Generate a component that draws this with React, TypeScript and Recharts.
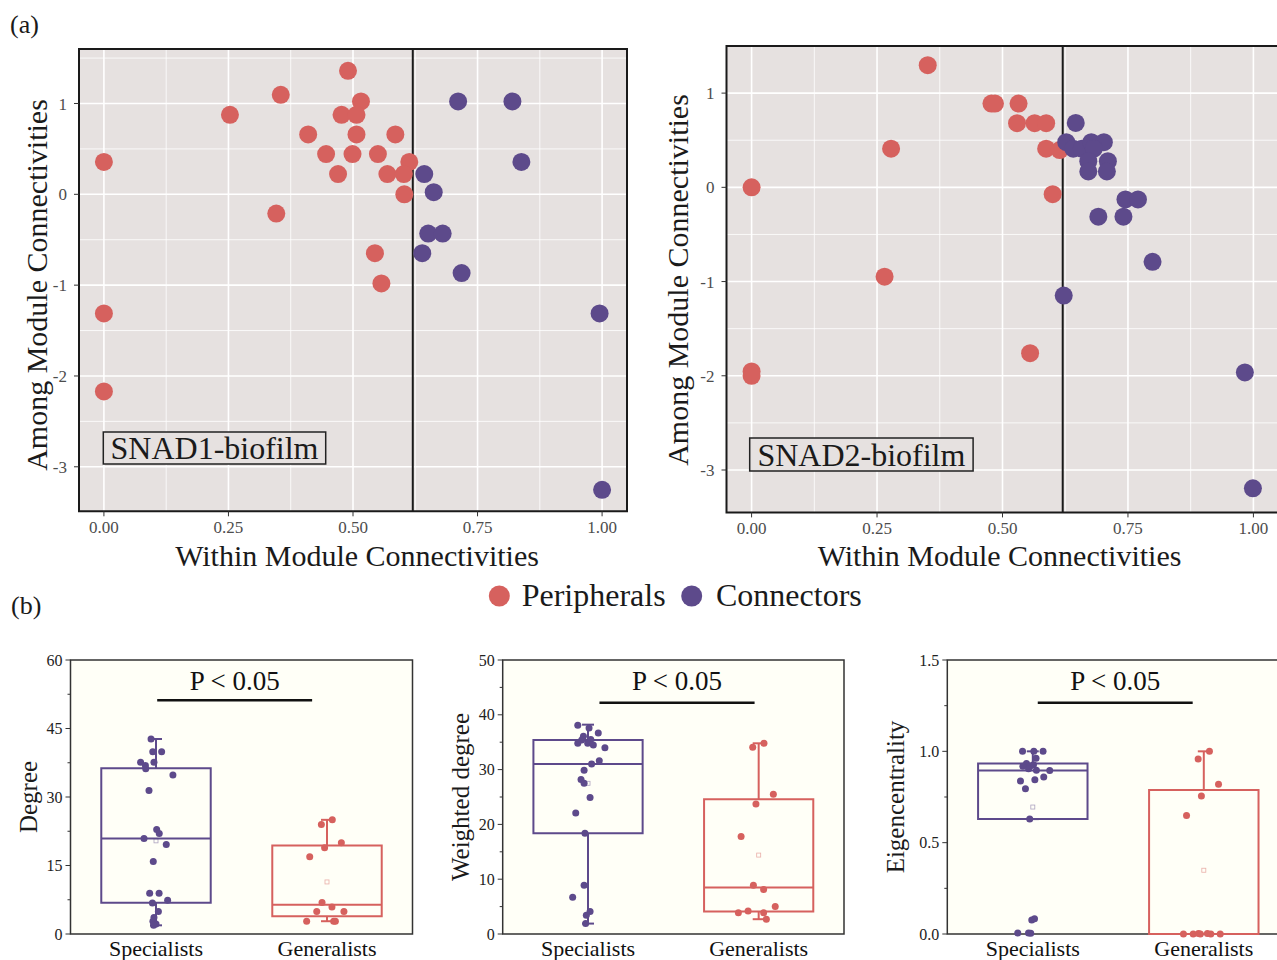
import React from 'react';
import {
  ScatterChart,
  Scatter,
  XAxis,
  YAxis,
  CartesianGrid,
  ReferenceLine,
  ReferenceArea,
  ReferenceDot,
} from 'recharts';

const FONT = '"Liberation Serif", "Times New Roman", serif';
const RED = '#D6615E';
const PURPLE = '#5D4A8B';
const PANEL_BG = '#E6E1E0';
const BOX_BG = '#FFFFF7';

// (a) within / among module connectivity, [x, y]
const snad1Peripherals = [
  [0.49, 1.36], [0.355, 1.095], [0.253, 0.875], [0.516, 1.023], [0.477, 0.875],
  [0.507, 0.875], [0.41, 0.659], [0.507, 0.659], [0.585, 0.659], [0, 0.356],
  [0.446, 0.443], [0.499, 0.443], [0.55, 0.443], [0.613, 0.356], [0.47, 0.223],
  [0.569, 0.223], [0.602, 0.223], [0.603, 0], [0.346, -0.212], [0.544, -0.648],
  [0.557, -0.981], [0, -1.311], [0, -2.17],
];
const snad1Connectors = [
  [0.711, 1.023], [0.82, 1.023], [0.838, 0.356], [0.643, 0.223], [0.662, 0.023],
  [0.651, -0.432], [0.68, -0.432], [0.639, -0.648], [0.718, -0.867], [0.995, -1.311],
  [1.0, -3.254],
];
const snad2Peripherals = [
  [0.351, 1.296], [0.478, 0.889], [0.485, 0.889], [0.532, 0.889], [0.529, 0.681],
  [0.564, 0.681], [0.587, 0.681], [0.278, 0.41], [0.587, 0.41], [0.614, 0.395],
  [0, 0], [0.6, -0.073], [0.265, -0.948], [0.555, -1.76], [0, -1.954], [0, -2.0],
];
const snad2Connectors = [
  [0.646, 0.684], [0.627, 0.479], [0.641, 0.41], [0.658, 0.41], [0.677, 0.479],
  [0.702, 0.479], [0.682, 0.41], [0.671, 0.278], [0.71, 0.278], [0.671, 0.168],
  [0.708, 0.168], [0.745, -0.128], [0.77, -0.128], [0.691, -0.311], [0.741, -0.311],
  [0.799, -0.79], [0.622, -1.149], [0.983, -1.965], [0.999, -3.195],
];
const xTicks = [0, 0.25, 0.5, 0.75, 1];
const xMinor = [0.125, 0.375, 0.625, 0.875];
const yTicks = [-3, -2, -1, 0, 1];
const yMinor1 = [-2.5, -1.5, -0.5, 0.5, 1.5];
const yMinor2 = [-2.5, -1.5, -0.5, 0.5];

// (b) box plots: jittered points [x position, value]
const groups = ['Specialists', 'Generalists'];
const degreeSpec = [
  [0.471, 42.7], [0.481, 39.9], [0.533, 39.9], [0.41, 37.6], [0.438, 36.9], [0.488, 37.6],
  [0.44, 36.2], [0.599, 34.8], [0.459, 31.4], [0.504, 22.9], [0.519, 22.0], [0.43, 20.9],
  [0.56, 19.6], [0.484, 15.9], [0.463, 8.9], [0.518, 8.9], [0.568, 7.4], [0.479, 6.8],
  [0.514, 4.9], [0.488, 3.6], [0.482, 2.8], [0.5, 2.2], [0.486, 1.9],
];
const degreeGen = [
  [1.531, 25.0], [1.467, 24.0], [1.584, 20.0], [1.486, 18.9], [1.399, 16.9], [1.471, 6.9],
  [1.529, 5.9], [1.44, 4.9], [1.599, 4.9], [1.381, 2.8], [1.539, 2.8], [1.549, 2.8],
];
const weightedSpec = [
  [0.44, 38.1], [0.506, 37.6], [0.56, 36.7], [0.473, 36.1], [0.463, 35.4], [0.516, 35.5],
  [0.44, 34.8], [0.498, 34.8], [0.531, 34.5], [0.599, 34.0], [0.566, 31.6], [0.521, 31.0],
  [0.477, 29.9], [0.459, 28.2], [0.477, 27.5], [0.512, 24.9], [0.428, 22.1], [0.482, 18.4],
  [0.477, 8.9], [0.41, 6.7], [0.512, 4.1], [0.49, 3.4], [0.486, 1.9],
];
const weightedGen = [
  [1.531, 34.8], [1.465, 34.1], [1.586, 25.5], [1.484, 23.7], [1.397, 17.8], [1.469, 8.9],
  [1.529, 8.1], [1.597, 5.0], [1.438, 4.2], [1.381, 3.9], [1.529, 3.9], [1.545, 2.7],
];
const eigenSpec = [
  [0.44, 1.0], [0.506, 1.0], [0.56, 1.0], [0.519, 0.962], [0.463, 0.933], [0.442, 0.918],
  [0.484, 0.918], [0.504, 0.927], [0.521, 0.896], [0.599, 0.895], [0.475, 0.904], [0.428, 0.838],
  [0.512, 0.845], [0.564, 0.86], [0.457, 0.795], [0.482, 0.629], [0.494, 0.076], [0.51, 0.084],
  [0.412, 0.005], [0.475, 0.005], [0.488, 0.004],
];
const eigenGen = [
  [1.533, 1.0], [1.467, 0.958], [1.586, 0.82], [1.486, 0.756], [1.399, 0.649], [1.381, 0],
  [1.438, 0], [1.469, 0.003], [1.521, 0.003], [1.541, 0], [1.596, 0], [1.48, 0],
];
// [low whisker, q1, median, q3, high whisker, mean]
const degreeBoxes = [[1.9, 6.85, 20.9, 36.3, 42.7, 20.4], [2.8, 3.86, 6.4, 19.4, 25.0, 11.4]];
const weightedBoxes = [[1.9, 18.4, 31.0, 35.4, 38.2, 27.5], [2.7, 4.1, 8.5, 24.6, 34.8, 14.4]];
const eigenBoxes = [[0.629, 0.629, 0.895, 0.933, 1.0, 0.695], [0, 0, 0, 0.789, 1.0, 0.349]];

const toPts = (arr: number[][]) => arr.map(([x, y]) => ({ x, y }));
const dot = (r: number, fill: string) => (p: any) => <circle cx={p.cx} cy={p.cy} r={r} fill={fill} />;

function ModulePanel({ left, width, margin, yDomain, yMinor, peri, conn }: any) {
  const tickStyle = { fontSize: 17, fill: '#4d4d4d', fontFamily: FONT };
  return (
    <div style={{ position: 'absolute', left, top: 0 }}>
      <ScatterChart width={width} height={580} margin={margin}>
        <CartesianGrid fill={PANEL_BG} stroke="#fff" strokeWidth={0.8} horizontalValues={yMinor} verticalValues={xMinor} />
        <CartesianGrid stroke="#fff" strokeWidth={1.6} horizontalValues={yTicks} verticalValues={xTicks} />
        <XAxis
          type="number" dataKey="x" domain={[-0.05, 1.05]} ticks={xTicks} interval={0}
          tickFormatter={(v: number) => v.toFixed(2)} axisLine={false}
          tickLine={{ stroke: '#333' }} tickSize={5} tickMargin={5} height={30} tick={tickStyle}
        />
        <YAxis
          type="number" dataKey="y" domain={yDomain} ticks={yTicks} interval={0} axisLine={false}
          tickLine={{ stroke: '#333' }} tickSize={5} tickMargin={7} width={40} tick={tickStyle}
        />
        <ReferenceArea x1={-0.05} x2={1.05} y1={yDomain[0]} y2={yDomain[1]} fill="none" stroke="#1a1a1a" strokeWidth={2} fillOpacity={0} />
        <Scatter data={toPts(peri)} fill={RED} shape={dot(9, RED)} isAnimationActive={false} />
        <Scatter data={toPts(conn)} fill={PURPLE} shape={dot(9, PURPLE)} isAnimationActive={false} />
        <ReferenceLine x={0.62} stroke="#1a1a1a" strokeWidth={2} />
      </ScatterChart>
    </div>
  );
}

function BoxPanel({ left, marginLeft, marginRight, yMax, majors, minors, fmt, spec, gen, boxes, sig }: any) {
  const ticks = [...majors, ...minors].sort((a: number, b: number) => a - b);
  const yTick = (p: any) => {
    const v = p.payload.value;
    const major = majors.includes(v);
    return (
      <g>
        <line x1={p.x - (major ? 5 : 3)} x2={p.x} y1={p.y} y2={p.y} stroke="#333" strokeWidth={1} />
        {major && (
          <text x={p.x - 8} y={p.y} dy="0.35em" textAnchor="end" fontSize={16} fontFamily={FONT} fill="#222">
            {fmt(v)}
          </text>
        )}
      </g>
    );
  };
  const colors = [PURPLE, RED];
  const hw = 0.32;
  const cap = 0.035;
  return (
    <div style={{ position: 'absolute', left, top: 600 }}>
      <ScatterChart width={440} height={360} margin={{ top: 60, left: marginLeft, right: marginRight, bottom: 6 }}>
        <CartesianGrid fill={BOX_BG} horizontal={false} vertical={false} />
        <XAxis
          type="number" dataKey="x" domain={[0, 2]} ticks={[0.5, 1.5]} interval={0}
          tickFormatter={(v: number) => groups[Math.floor(v)]} axisLine={false} tickLine={false}
          tickSize={0} tickMargin={6} height={20} tick={{ fontSize: 22, fill: '#111', fontFamily: FONT }}
        />
        <YAxis
          type="number" dataKey="y" domain={[0, yMax]} ticks={ticks} interval={0} axisLine={false}
          tickLine={false} tickSize={0} tickMargin={0} width={40} tick={yTick}
        />
        <ReferenceArea x1={0} x2={2} y1={0} y2={yMax} fill="none" fillOpacity={0} stroke="#333" strokeWidth={1.5} />
        {boxes.map((b: number[], i: number) => {
          const c = 0.5 + i;
          const col = colors[i];
          const [lo, q1, med, q3, hi, mean] = b;
          return (
            <React.Fragment key={i}>
              <ReferenceArea x1={c - hw} x2={c + hw} y1={q1} y2={q3} fill="none" fillOpacity={0} stroke={col} strokeWidth={2} />
              <ReferenceLine segment={[{ x: c - hw, y: med }, { x: c + hw, y: med }]} stroke={col} strokeWidth={2} />
              <ReferenceLine segment={[{ x: c, y: q3 }, { x: c, y: hi }]} stroke={col} strokeWidth={2} />
              <ReferenceLine segment={[{ x: c, y: lo }, { x: c, y: q1 }]} stroke={col} strokeWidth={2} />
              <ReferenceLine segment={[{ x: c - cap, y: hi }, { x: c + cap, y: hi }]} stroke={col} strokeWidth={2} />
              <ReferenceLine segment={[{ x: c - cap, y: lo }, { x: c + cap, y: lo }]} stroke={col} strokeWidth={2} />
              <ReferenceDot
                x={c} y={mean} r={2}
                shape={(p: any) => (
                  <rect x={p.cx - 2} y={p.cy - 2} width={4} height={4} fill="none" stroke={col} strokeOpacity={0.5} strokeWidth={0.8} />
                )}
              />
            </React.Fragment>
          );
        })}
        <ReferenceLine
          segment={[{ x: sig[0], y: sig[2] }, { x: sig[1], y: sig[2] }]}
          stroke="#111" strokeWidth={2.5}
          label={{ value: 'P < 0.05', position: 'top', offset: sig[3], fontSize: 27, fill: '#111', fontFamily: FONT }}
        />
        <Scatter data={toPts(spec)} fill={PURPLE} shape={dot(3.5, PURPLE)} isAnimationActive={false} />
        <Scatter data={toPts(gen)} fill={RED} shape={dot(3.5, RED)} isAnimationActive={false} />
      </ScatterChart>
    </div>
  );
}

export default function App() {
  const t = { fontFamily: FONT, fill: '#1a1a1a' };
  return (
    <div style={{ position: 'absolute', left: 0, top: 0, width: 1277, height: 960, overflow: 'hidden', background: '#fff' }}>
      <ModulePanel
        left={0} width={640} margin={{ top: 49, left: 39, right: 13, bottom: 38.7 }}
        yDomain={[-3.49, 1.6]} yMinor={yMinor1} peri={snad1Peripherals} conn={snad1Connectors}
      />
      <ModulePanel
        left={640} width={650} margin={{ top: 46, left: 46.5, right: 11.5, bottom: 37.6 }}
        yDomain={[-3.45, 1.5]} yMinor={yMinor2} peri={snad2Peripherals} conn={snad2Connectors}
      />
      <BoxPanel
        left={0} marginLeft={30.5} marginRight={27.5} yMax={60}
        majors={[0, 15, 30, 45, 60]} minors={[7.5, 22.5, 37.5, 52.5]} fmt={(v: number) => String(v)}
        spec={degreeSpec} gen={degreeGen} boxes={degreeBoxes} sig={[0.507, 1.413, 51.2, 10]}
      />
      <BoxPanel
        left={420} marginLeft={42.7} marginRight={16} yMax={50}
        majors={[0, 10, 20, 30, 40, 50]} minors={[5, 15, 25, 35, 45]} fmt={(v: number) => String(v)}
        spec={weightedSpec} gen={weightedGen} boxes={weightedBoxes} sig={[0.567, 1.476, 42.2, 12.5]}
      />
      <BoxPanel
        left={860} marginLeft={47.3} marginRight={10.7} yMax={1.5}
        majors={[0, 0.5, 1, 1.5]} minors={[0.25, 0.75, 1.25]} fmt={(v: number) => v.toFixed(1)}
        spec={eigenSpec} gen={eigenGen} boxes={eigenBoxes} sig={[0.529, 1.435, 1.266, 12.5]}
      />
      <svg width={1277} height={960} style={{ position: 'absolute', left: 0, top: 0, pointerEvents: 'none' }}>
        <text x={10} y={33} fontSize={26} {...t}>(a)</text>
        <text x={11} y={614} fontSize={26} {...t}>(b)</text>
        <text transform="translate(46.5,285) rotate(-90)" textAnchor="middle" fontSize={30} {...t}>Among Module Connectivities</text>
        <text x={357} y={565.5} textAnchor="middle" fontSize={30} {...t}>Within Module Connectivities</text>
        <text transform="translate(688,280) rotate(-90)" textAnchor="middle" fontSize={30} {...t}>Among Module Connectivities</text>
        <text x={999.5} y={565.5} textAnchor="middle" fontSize={30} {...t}>Within Module Connectivities</text>
        <rect x={103.3} y={432} width={222.4} height={32} fill={PANEL_BG} stroke="#222" strokeWidth={1.5} />
        <text x={214.5} y={459} textAnchor="middle" fontSize={32} {...t}>SNAD1-biofilm</text>
        <rect x={749.7} y={438} width={223.4} height={33} fill={PANEL_BG} stroke="#222" strokeWidth={1.5} />
        <text x={861.4} y={465.5} textAnchor="middle" fontSize={32} {...t}>SNAD2-biofilm</text>
        <circle cx={499.3} cy={596} r={10.5} fill={RED} />
        <text x={521.7} y={606} fontSize={32} {...t}>Peripherals</text>
        <circle cx={691.7} cy={596} r={10.5} fill={PURPLE} />
        <text x={716} y={606} fontSize={32} {...t}>Connectors</text>
        <text transform="translate(37,797) rotate(-90)" textAnchor="middle" fontSize={25} {...t}>Degree</text>
        <text transform="translate(469,797) rotate(-90)" textAnchor="middle" fontSize={25} {...t}>Weighted degree</text>
        <text transform="translate(904,797) rotate(-90)" textAnchor="middle" fontSize={25} {...t}>Eigencentrality</text>
      </svg>
    </div>
  );
}
